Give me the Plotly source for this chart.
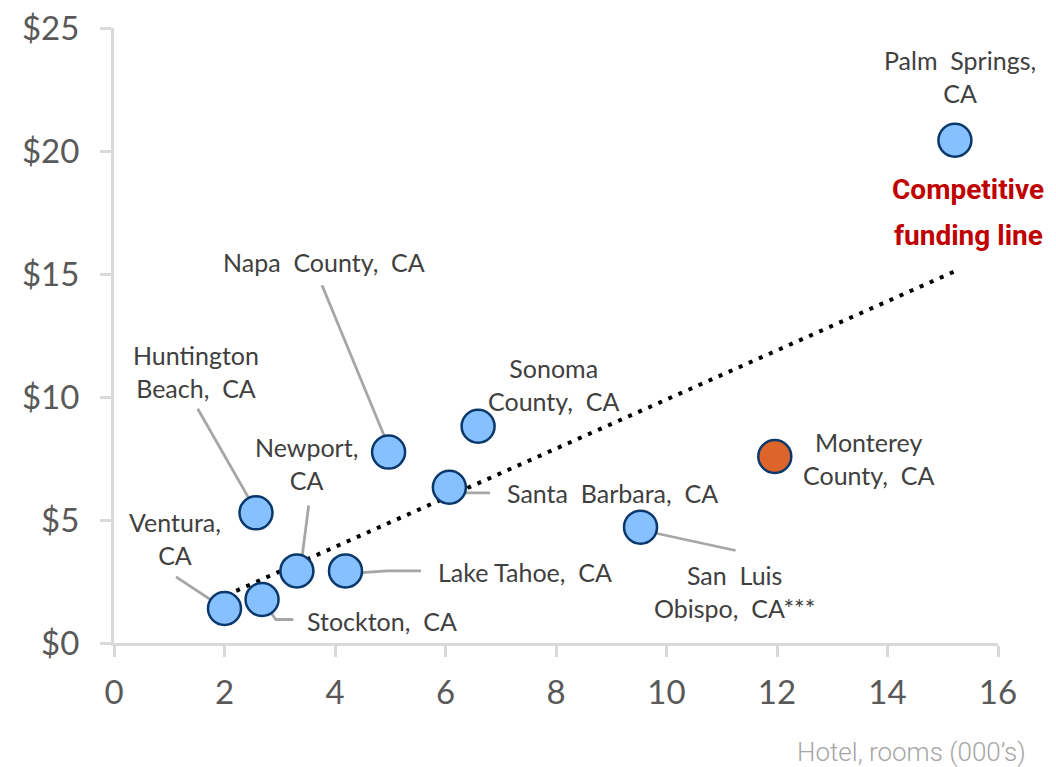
import plotly.graph_objects as go

# ---- data ----
cities = ["Ventura, CA", "Stockton, CA", "Huntington Beach, CA", "Newport, CA",
          "Lake Tahoe, CA", "Napa County, CA", "Santa Barbara, CA", "Sonoma County, CA",
          "San Luis Obispo, CA***", "Monterey County, CA", "Palm Springs, CA"]
hotel_rooms = [2.00, 2.68, 2.57, 3.31, 4.19, 4.97, 6.07, 6.59, 9.53, 11.96, 15.22]
funding = [1.40, 1.77, 5.29, 2.93, 2.93, 7.76, 6.33, 8.81, 4.71, 7.58, 20.44]
is_highlight = [False, False, False, False, False, False, False, False, False, True, False]

trend_x = [2.03, 15.26]
trend_y = [1.94, 15.15]

x_ticks = [0, 2, 4, 6, 8, 10, 12, 14, 16]
y_ticks = [0, 5, 10, 15, 20, 25]
y_tick_labels = ["$0", "$5", "$10", "$15", "$20", "$25"]

# ---- label layout (text, x, y) and leader lines in data units ----
label_text = ["Ventura,<br>CA", "Stockton,  CA", "Huntington<br>Beach,  CA", "Newport,<br>CA",
              "Lake Tahoe,  CA", "Napa  County,  CA", "Santa  Barbara,  CA", "Sonoma<br>County,  CA",
              "San  Luis<br>Obispo,  CA***", "Monterey<br>County,  CA", "Palm  Springs,<br>CA"]
label_x = [1.10, 4.85, 1.48, 3.48, 7.44, 3.80, 9.02, 7.96, 11.23, 13.66, 15.31]
label_y = [4.25, 0.89, 11.04, 7.30, 2.87, 15.47, 6.08, 10.51, 2.11, 7.50, 23.03]

leaders = [
    ([1.122, 2.04], [2.69, 1.33]),
    ([2.733, 2.927, 3.245], [1.606, 0.955, 0.955]),
    ([1.515, 2.61], [9.52, 5.22]),
    ([3.524, 3.367], [5.59, 2.85]),
    ([4.259, 4.95, 5.557], [2.825, 2.93, 2.935]),
    ([3.765, 5.03], [14.545, 7.66]),
    ([6.172, 6.384, 6.805], [6.21, 6.106, 6.106]),
    ([9.58, 11.25], [4.573, 3.76]),
]

BLUE = "#86C0FF"
ORANGE = "#DD642B"
NAVY = "#0B386B"
TEXT = "#404040"
AXIS = "#D9D9D9"

fig = go.Figure()

for lx, ly in leaders:
    fig.add_trace(go.Scatter(x=lx, y=ly, mode="lines",
                             line=dict(color="#A6A6A6", width=2.8),
                             hoverinfo="skip", showlegend=False))

fig.add_trace(go.Scatter(x=trend_x, y=trend_y, mode="lines",
                         line=dict(color="black", width=4, dash="4px,7px"),
                         hoverinfo="skip", showlegend=False))

fig.add_trace(go.Scatter(
    x=hotel_rooms, y=funding, mode="markers", text=cities,
    marker=dict(size=33, color=[ORANGE if h else BLUE for h in is_highlight],
                line=dict(color=NAVY, width=2.5), opacity=1),
    showlegend=False, hovertemplate="%{text}<br>%{x}, $%{y}<extra></extra>"))

for t, x, y in zip(label_text, label_x, label_y):
    fig.add_annotation(x=x, y=y, text=t, showarrow=False, xanchor="center", yanchor="middle",
                       font=dict(family="Lato", size=25, color=TEXT))

fig.add_annotation(x=15.45, y=18.43, text="<b>Competitive</b>", showarrow=False,
                   font=dict(family="Roboto", size=28, color="#C00000"))
fig.add_annotation(x=15.46, y=16.57, text="<b>funding line</b>", showarrow=False,
                   font=dict(family="Roboto", size=28, color="#C00000"))

fig.add_annotation(xref="paper", yref="paper", x=1.0345, y=-0.178, xanchor="right", yanchor="middle",
                   text="Hotel, rooms (000’s)", showarrow=False,
                   font=dict(family="Roboto", size=26, color="#A6A6A6", weight=300))

fig.update_layout(
    width=1056, height=767,
    margin=dict(l=114, r=58, t=28, b=123.5),
    plot_bgcolor="white", paper_bgcolor="white",
    font=dict(family="Lato", color="#595959"),
)
fig.update_xaxes(range=[0, 16], tickvals=x_ticks, showgrid=False, zeroline=False,
                 showline=True, linecolor=AXIS, linewidth=3, automargin=False,
                 ticks="outside", ticklen=11, tickwidth=3, tickcolor=AXIS,
                 ticklabelstandoff=7, ticklabeloverflow="allow",
                 tickfont=dict(family="Lato", size=33, color="#595959"))
fig.update_yaxes(range=[0, 25], tickvals=y_ticks, ticktext=y_tick_labels, showgrid=False,
                 zeroline=False, showline=True, linecolor=AXIS, linewidth=3, automargin=False,
                 ticks="outside", ticklen=11, tickwidth=3, tickcolor=AXIS,
                 ticklabelstandoff=14, ticklabeloverflow="allow",
                 tickfont=dict(family="Lato", size=33, color="#595959"))

fig.write_html("out.html", config={"displayModeBar": False},
               post_script="document.body.style.margin='0';document.body.style.overflow='hidden';")
